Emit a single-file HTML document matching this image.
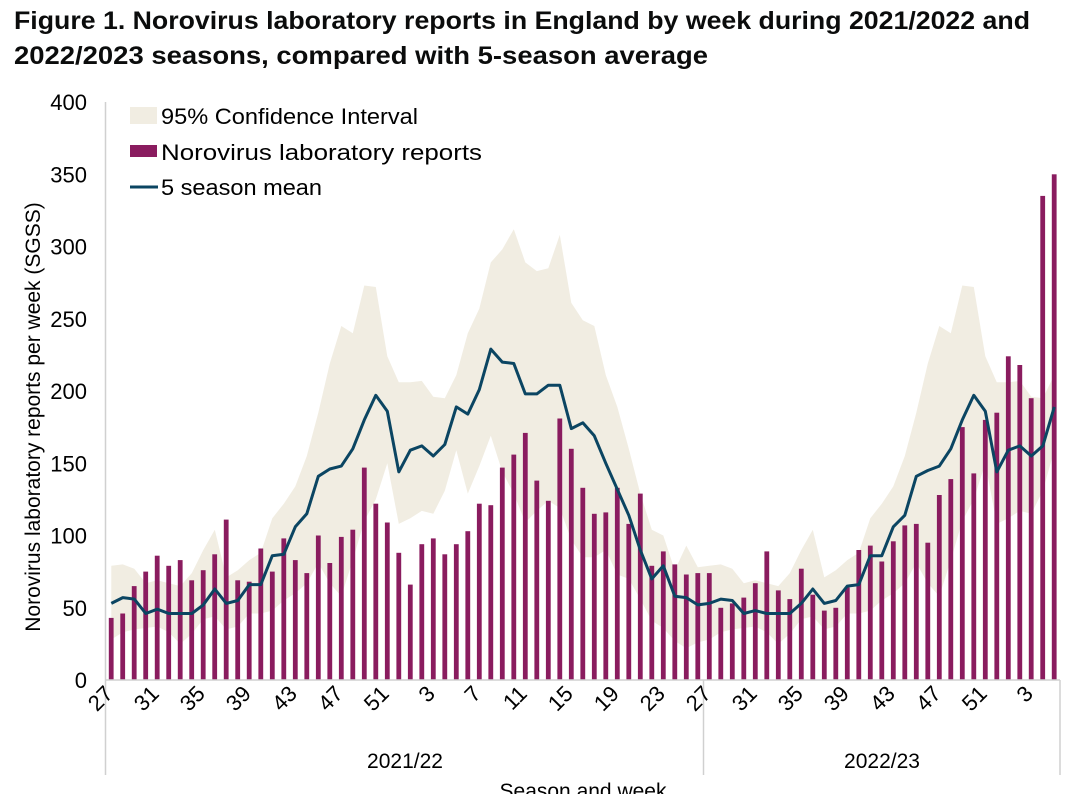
<!DOCTYPE html>
<html><head><meta charset="utf-8"><style>
body{margin:0;background:#fff;width:1073px;height:794px;overflow:hidden;}
svg{display:block;font-family:"Liberation Sans",Arial,sans-serif;}
</style></head><body>
<svg id="chart" width="1073" height="794" viewBox="0 0 1073 794">
<text x="14" y="29" font-size="25" font-weight="bold" fill="#0b0c0c" textLength="1016" lengthAdjust="spacingAndGlyphs">Figure 1. Norovirus laboratory reports in England by week during 2021/2022 and</text>
<text x="14" y="64" font-size="25" font-weight="bold" fill="#0b0c0c" textLength="694" lengthAdjust="spacingAndGlyphs">2022/2023 seasons, compared with 5-season average</text>
<g id="band"></g>
<g id="bars"></g>
<g id="line"></g>
<g id="axes"></g>
<g>
<rect x="130" y="107" width="27" height="17" fill="#f1ede2"/>
<text x="161" y="124" font-size="22" fill="#000" textLength="257" lengthAdjust="spacingAndGlyphs">95% Confidence Interval</text>
<rect x="130" y="145" width="27" height="12" fill="#8a1c5f"/>
<text x="161" y="160" font-size="22" fill="#000" textLength="321" lengthAdjust="spacingAndGlyphs">Norovirus laboratory reports</text>
<line x1="130" y1="187" x2="158" y2="187" stroke="#0b4562" stroke-width="3"/>
<text x="161" y="195" font-size="22" fill="#000" textLength="161" lengthAdjust="spacingAndGlyphs">5 season mean</text>
</g>
<text transform="translate(40,417) rotate(-90)" text-anchor="middle" font-size="21" fill="#000">Norovirus laboratory  reports per week (SGSS)</text>
<text x="405" y="768" text-anchor="middle" font-size="21">2021/22</text>
<text x="882" y="768" text-anchor="middle" font-size="21">2022/23</text>
<text x="583" y="798" text-anchor="middle" font-size="21">Season and week</text>
</svg>
<script>
const weeks=[27,28,29,30,31,32,33,34,35,36,37,38,39,40,41,42,43,44,45,46,47,48,49,50,51,52,1,2,3,4,5,6,7,8,9,10,11,12,13,14,15,16,17,18,19,20,21,22,23,24,25,26,
27,28,29,30,31,32,33,34,35,36,37,38,39,40,41,42,43,44,45,46,47,48,49,50,51,52,1,2,3,4,5];
const reports=[43,46,65,75,86,79,83,69,76,87,111,69,68,91,75,98,83,74,100,81,99,104,147,122,109,88,66,94,98,87,94,103,122,121,147,156,171,138,124,181,160,133,115,116,133,108,129,79,89,80,73,74,
74,50,53,57,67,89,62,56,77,59,48,50,64,90,93,82,96,107,108,95,128,139,175,143,180,185,224,218,195,335,350];
const mean=[53,57,56,46,49,46,46,46,52,63,53,55,66,66,86,87,106,115,141,146,148,160,180,197,186,144,159,162,155,163,189,184,201,229,220,219,198,198,204,204,174,178,169,150,132,114,90,70,79,58,57,52,
53,56,55,46,48,46,46,46,53,63,53,55,65,66,86,86,106,114,141,145,148,160,180,197,186,144,159,162,155,162,189];
const ciUpper=[79,80,77,67,69,67,65,74,90,104,71,76,83,88,112,122,134,155,185,219,245,240,273,272,224,206,206,207,196,195,211,240,257,289,298,312,289,283,285,308,261,249,245,211,189,160,129,104,100,76,93,78,
79,80,77,67,69,67,65,74,90,104,71,76,83,88,112,122,134,155,185,219,245,240,273,272,224,206,206,207,196,195,211];
const ciLower=[28,33,35,36,37,33,25,32,42,44,35,37,46,46,48,55,60,67,81,67,58,83,110,125,150,108,112,117,115,131,159,129,148,169,144,129,109,117,124,119,97,85,85,90,73,70,56,41,36,27,22,26,
28,33,35,36,37,33,25,32,42,44,35,37,46,46,48,55,60,67,81,67,58,83,110,125,150,108,112,117,115,131,159];
const yTicks=[0,50,100,150,200,250,300,350,400];

const NS='http://www.w3.org/2000/svg';
const X0=105.5,X1=1060,Y0=680,Y1=102,YMAX=400;
const step=(X1-X0)/weeks.length;
function xs(i){return X0+step*(i+0.5);}
function ys(v){return Y0-(v/YMAX)*(Y0-Y1);}
function mk(tag,attrs,parent){const e=document.createElementNS(NS,tag);for(const k in attrs)e.setAttribute(k,attrs[k]);parent.appendChild(e);return e;}

const band=document.getElementById('band');
let d='';
ciUpper.forEach((v,i)=>{d+=(i?'L':'M')+xs(i).toFixed(1)+','+ys(v).toFixed(1);});
for(let i=ciLower.length-1;i>=0;i--)d+='L'+xs(i).toFixed(1)+','+ys(ciLower[i]).toFixed(1);
const bp=mk('path',{d:d+'Z',fill:'#f1ede2'},band);



const bars=document.getElementById('bars');
reports.forEach((v,i)=>{
  const r=mk('rect',{x:(xs(i)-2.4).toFixed(1),y:ys(v).toFixed(1),width:4.8,height:(Y0-ys(v)).toFixed(1),fill:'#8a1c5f'},bars);
  
  
});

const line=document.getElementById('line');
const lp=mk('polyline',{points:mean.map((v,i)=>xs(i).toFixed(1)+','+ys(v).toFixed(1)).join(' '),fill:'none',stroke:'#0b4562','stroke-width':3,'stroke-linejoin':'round'},line);



const axes=document.getElementById('axes');
const ya=mk('line',{x1:X0,y1:Y1,x2:X0,y2:775,stroke:'#d0d0d0','stroke-width':1.5},axes);


const xa=mk('line',{x1:X0,y1:Y0,x2:X1,y2:Y0,stroke:'#d0d0d0','stroke-width':1.5},axes);


const sep=mk('line',{x1:X0+step*52,y1:Y0,x2:X0+step*52,y2:775,stroke:'#d0d0d0','stroke-width':1.5},axes);


const rb=mk('line',{x1:X1,y1:Y0,x2:X1,y2:775,stroke:'#d0d0d0','stroke-width':1.5},axes);


yTicks.forEach(t=>{
  const tx=mk('text',{x:87,y:(ys(t)+8).toFixed(1),'text-anchor':'end','font-size':22,fill:'#000'},axes);
  tx.textContent=t;
  
  
});
weeks.forEach((w,i)=>{
  if(i%4!==0)return;
  const x=xs(i)+3,y=695;
  const tx=mk('text',{x:0,y:0,transform:`translate(${x.toFixed(1)},${y}) rotate(-45)`,'text-anchor':'end','font-size':22,fill:'#000'},axes);
  tx.textContent=w;
  
  
});
</script>
</body></html>
